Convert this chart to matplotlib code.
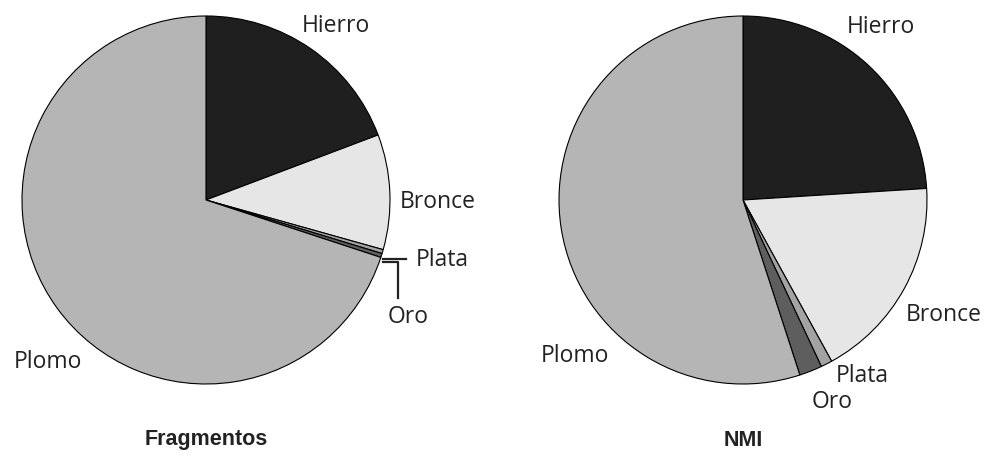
import matplotlib.pyplot as plt

# datos (porcentajes)
metales = ["Hierro", "Bronce", "Plata", "Oro", "Plomo"]
fragmentos = [19.25, 10.1, 0.35, 0.35, 69.95]
nmi = [24.0, 18.0, 1.0, 2.0, 55.0]
colores = ["#1f1f1f", "#e6e6e6", "#a3a3a3", "#5e5e5e", "#b5b5b5"]

W, H = 985, 463
fig = plt.figure(figsize=(W / 100, H / 100), dpi=100)
ax = fig.add_axes([0, 0, 1, 1])
ax.set_xlim(0, W)
ax.set_ylim(0, H)
ax.set_aspect("equal")
ax.axis("off")

fuente = ["Open Sans", "DejaVu Sans"]
R = 184

# posiciones de etiquetas en píxeles (x, y desde arriba)
pos_izq = {"Hierro": (336, 26), "Bronce": (438, 202), "Plata": (442, 260),
           "Oro": (408, 317), "Plomo": (48, 362)}
pos_der = {"Hierro": (881, 27), "Bronce": (944, 315), "Plata": (862, 376),
           "Oro": (832, 402), "Plomo": (575, 356)}

for valores, cx, pos, titulo in [(fragmentos, 206, pos_izq, "Fragmentos"),
                                  (nmi, 743, pos_der, "NMI")]:
    ax.pie(valores, colors=colores, startangle=90, counterclock=False,
           center=(cx, H - 200), radius=R,
           wedgeprops=dict(edgecolor="black", linewidth=0.8))
    for m in metales:
        x, y = pos[m]
        ax.text(x, H - y, m, ha="center", va="center", fontsize=16.5,
                family=fuente, color="#222222")
    ax.text(cx, H - 440, titulo, ha="center", va="center", fontsize=15.5,
            fontweight="bold", family=["Liberation Sans", "DejaVu Sans"],
            color="#222222")

# líneas guía de Plata y Oro (gráfico izquierdo)
ax.plot([383, 406], [H - 259, H - 259], color="#222222", lw=1.6)
ax.plot([383, 398, 398], [H - 262, H - 262, H - 298], color="#222222", lw=1.6)

ax.set_xlim(0, W)
ax.set_ylim(0, H)
fig.savefig("out.png", dpi=100)
